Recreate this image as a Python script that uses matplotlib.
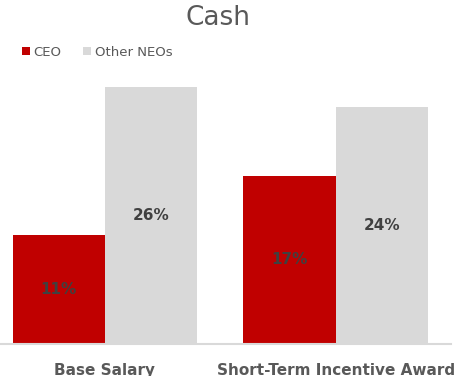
import matplotlib.pyplot as plt
import numpy as np

categories = ["Base Salary", "Short-Term Incentive Award"]
ceo = [11, 17]
other_neos = [26, 24]
series_names = ["CEO", "Other NEOs"]

red = "#C00000"
grey = "#D9D9D9"
text_col = "#595959"
label_col = "#404040"

fig = plt.figure(figsize=(4.66, 3.76), dpi=100)
fig.patch.set_facecolor("white")
# axes: x 0..451 px, y 80..344 px (from top)
ax = fig.add_axes([0, 32 / 376, 451 / 466, 264 / 376])

x = np.arange(len(categories))
w = 0.4
b1 = ax.bar(x - w / 2, ceo, w, color=red, label=series_names[0])
b2 = ax.bar(x + w / 2, other_neos, w, color=grey, label=series_names[1])

for bars, vals in [(b1, ceo), (b2, other_neos)]:
    for bar, v in zip(bars, vals):
        ax.text(bar.get_x() + bar.get_width() / 2, v / 2, f"{v}%",
                ha="center", va="center", fontsize=11, fontweight="bold",
                color=label_col)

ax.set_xlim(-0.455, 1.5)
ax.set_ylim(0, 26.7)
ax.set_yticks([])
ax.set_xticks(x)
ax.set_xticklabels(categories, fontsize=11, fontweight="bold", color=text_col)
ax.tick_params(axis="x", length=0, pad=14)
for s in ["top", "right", "left"]:
    ax.spines[s].set_visible(False)
ax.spines["bottom"].set_color(grey)
ax.spines["bottom"].set_linewidth(1.5)

fig.text(218 / 466, 1 - 18 / 376, "Cash", ha="center", va="center",
         fontsize=19, color=text_col)

leg = fig.legend(loc="center left", bbox_to_anchor=(10 / 466, 1 - 52 / 376),
                 ncol=2, frameon=False, fontsize=9.5, handlelength=0.6,
                 handleheight=0.6, handletextpad=0.3, columnspacing=1.6)
for t in leg.get_texts():
    t.set_color(text_col)

plt.savefig("out.png", dpi=100)
